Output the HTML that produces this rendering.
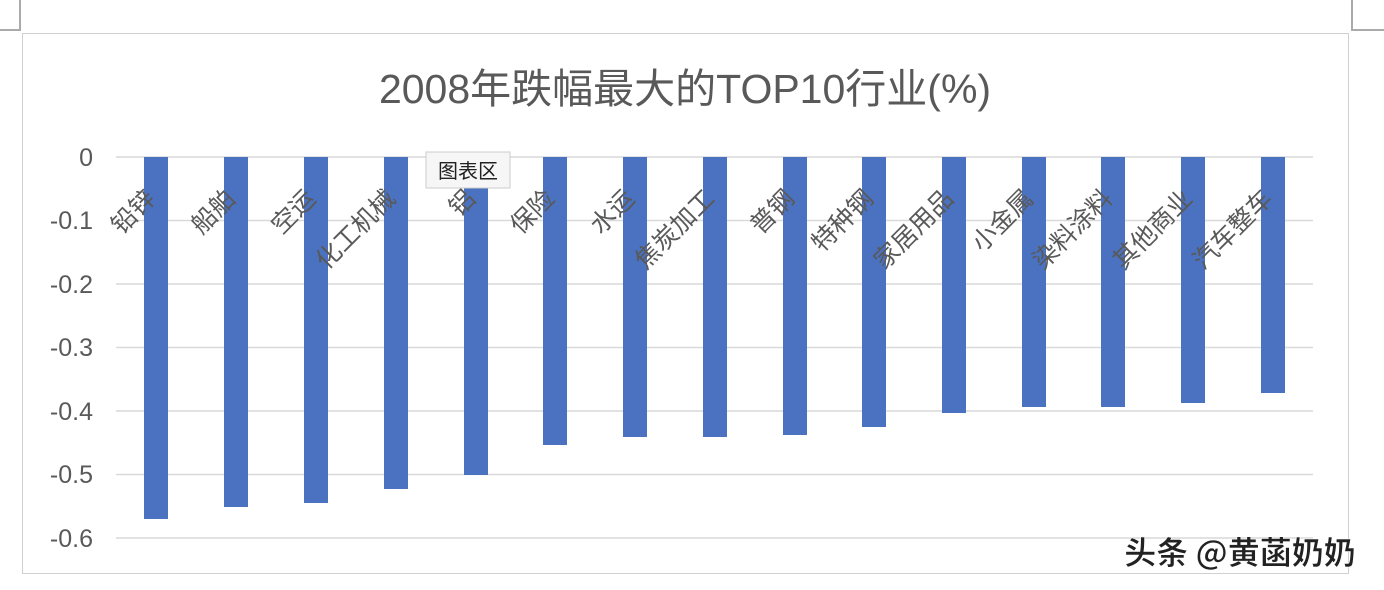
<!DOCTYPE html><html><head><meta charset="utf-8"><style>body{margin:0;background:#fff}svg{display:block}</style></head><body>
<svg width="1384" height="590" xmlns="http://www.w3.org/2000/svg" font-family="Liberation Sans, Noto Sans CJK SC, sans-serif">
<rect width="1384" height="590" fill="#fff"/>
<path d="M0 30H20V0" fill="none" stroke="#aaa" stroke-width="2"/>
<path d="M1384 30H1352V0" fill="none" stroke="#aaa" stroke-width="2"/>
<rect x="22.5" y="33.5" width="1326" height="540" fill="#fff" stroke="#d0d0d0"/>
<text x="685" y="103" font-size="41" fill="#595959" text-anchor="middle">2008年跌幅最大的TOP10行业(%)</text>
<g stroke="#d9d9d9" stroke-width="1.5">
<line x1="116" x2="1313" y1="157" y2="157"/><line x1="116" x2="1313" y1="220.5" y2="220.5"/><line x1="116" x2="1313" y1="284" y2="284"/><line x1="116" x2="1313" y1="347.5" y2="347.5"/><line x1="116" x2="1313" y1="411" y2="411"/><line x1="116" x2="1313" y1="474.5" y2="474.5"/><line x1="116" x2="1313" y1="538" y2="538"/>
</g>
<g font-size="25" fill="#595959" text-anchor="end">
<text x="93" y="166">0</text><text x="93" y="229">-0.1</text><text x="93" y="293">-0.2</text><text x="93" y="356">-0.3</text><text x="93" y="420">-0.4</text><text x="93" y="483">-0.5</text><text x="93" y="547">-0.6</text>
</g>
<g fill="#4a72c0">
<rect x="144" y="157" width="24" height="362"/>
<rect x="224" y="157" width="24" height="350"/>
<rect x="304" y="157" width="24" height="346"/>
<rect x="384" y="157" width="24" height="332"/>
<rect x="464" y="157" width="24" height="318"/>
<rect x="543" y="157" width="24" height="288"/>
<rect x="623" y="157" width="24" height="280"/>
<rect x="703" y="157" width="24" height="280"/>
<rect x="783" y="157" width="24" height="278"/>
<rect x="862" y="157" width="24" height="270"/>
<rect x="942" y="157" width="24" height="256"/>
<rect x="1022" y="157" width="24" height="250"/>
<rect x="1101" y="157" width="24" height="250"/>
<rect x="1181" y="157" width="24" height="246"/>
<rect x="1261" y="157" width="24" height="236"/>
</g>
<g font-size="25" fill="#595959" text-anchor="end" font-family="Noto Sans CJK SC, sans-serif">
<text transform="translate(157,200) rotate(-45)">铅锌</text>
<text transform="translate(237,200) rotate(-45)">船舶</text>
<text transform="translate(317,200) rotate(-45)">空运</text>
<text transform="translate(397,200) rotate(-45)">化工机械</text>
<text transform="translate(477,200) rotate(-45)">铝</text>
<text transform="translate(556,200) rotate(-45)">保险</text>
<text transform="translate(636,200) rotate(-45)">水运</text>
<text transform="translate(716,200) rotate(-45)">焦炭加工</text>
<text transform="translate(796,200) rotate(-45)">普钢</text>
<text transform="translate(875,200) rotate(-45)">特种钢</text>
<text transform="translate(955,200) rotate(-45)">家居用品</text>
<text transform="translate(1035,200) rotate(-45)">小金属</text>
<text transform="translate(1114,200) rotate(-45)">染料涂料</text>
<text transform="translate(1194,200) rotate(-45)">其他商业</text>
<text transform="translate(1274,200) rotate(-45)">汽车整车</text>
</g>
<rect x="426" y="152" width="84" height="36" fill="#f6f6f6" stroke="#ccc"/>
<text x="468" y="178" font-size="20" fill="#222" text-anchor="middle" font-family="Noto Sans CJK SC, sans-serif">图表区</text>
<text x="1240" y="564" font-size="32" font-weight="bold" fill="#222" text-anchor="middle" font-family="Noto Sans CJK SC, sans-serif" stroke="#fff" stroke-width="0.6">头条 @黄菡奶奶</text>
</svg>
</body></html>
